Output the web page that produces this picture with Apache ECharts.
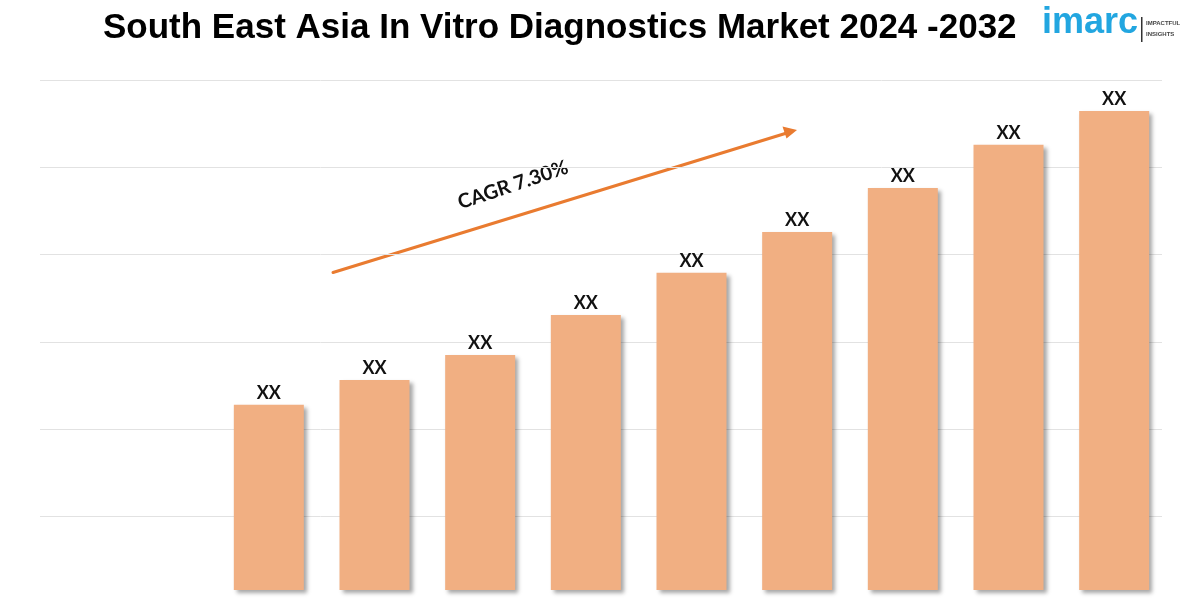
<!DOCTYPE html>
<html>
<head>
<meta charset="utf-8">
<script src="https://cdn.jsdelivr.net/npm/echarts@6/dist/echarts.min.js"></script>
<style>
  html, body { margin: 0; padding: 0; background: #ffffff; }
  #chart { width: 1200px; height: 600px; }
</style>
</head>
<body>
<div id="chart"></div>
<script>
// ---- data ----
const years = ['2024', '2025', '2026', '2027', '2028', '2029', '2030', '2031', '2032'];
const marketValues = [36.3, 41.2, 46.1, 53.9, 62.2, 70.2, 78.8, 87.3, 93.9];
const valueLabel = 'XX';
const titleText = 'South East Asia In Vitro Diagnostics Market 2024 -2032';
const cagrText = 'CAGR 7.30%';

const chart = echarts.init(document.getElementById('chart'), null, { renderer: 'canvas' });

const deg = Math.PI / 180;

const option = {
  backgroundColor: '#ffffff',
  animation: false,
  title: {
    text: titleText,
    left: 103,
    top: 11,
    padding: 0,
    textStyle: {
      fontFamily: '"Liberation Sans", Arial, sans-serif',
      fontWeight: 'bold',
      fontSize: 35,
      color: '#000000'
    }
  },
  grid: [
    { left: 216, right: 33, top: 80, bottom: 10, outerBoundsMode: 'none' },
    { left: 40, right: 38, top: 80, height: 524, outerBoundsMode: 'none' }
  ],
  xAxis: [
    {
      type: 'category',
      gridIndex: 0,
      data: years,
      show: false
    },
    {
      type: 'value',
      gridIndex: 1,
      show: false,
      min: 0,
      max: 1
    }
  ],
  yAxis: [
    {
      type: 'value',
      gridIndex: 0,
      min: 0,
      max: 100,
      show: false
    },
    {
      type: 'value',
      gridIndex: 1,
      min: 0,
      max: 6,
      interval: 1,
      axisLine: { show: false },
      axisTick: { show: false },
      axisLabel: { show: false },
      splitLine: { show: true, lineStyle: { color: '#E2E2E2', width: 1 } }
    }
  ],
  series: [
    {
      type: 'bar',
      xAxisIndex: 0,
      yAxisIndex: 0,
      data: marketValues,
      barWidth: 70,
      itemStyle: {
        color: '#F1AF82',
        shadowColor: 'rgba(0,0,0,0.35)',
        shadowBlur: 4,
        shadowOffsetX: 3,
        shadowOffsetY: 3
      },
      label: {
        show: true,
        position: 'top',
        distance: 3,
        formatter: valueLabel,
        fontFamily: 'Lato, "Open Sans", sans-serif',
        fontWeight: 'bold',
        fontSize: 18,
        color: '#111111'
      }
    }
  ],
  graphic: [
    // CAGR arrow
    {
      type: 'line',
      shape: { x1: 333, y1: 272.5, x2: 786, y2: 133.3 },
      style: { stroke: '#E97B30', lineWidth: 3, lineCap: 'round' },
      silent: true
    },
    {
      type: 'polygon',
      shape: { points: [[797, 130], [786.5, 138.5], [782.5, 126.5]] },
      style: { fill: '#E97B30' },
      silent: true
    },
    {
      type: 'text',
      x: 513,
      y: 185,
      rotation: 18.5 * deg,
      style: {
        text: cagrText,
        font: 'bold 20px Lato, "Open Sans", sans-serif',
        fill: '#111111',
        align: 'center',
        verticalAlign: 'middle'
      },
      silent: true
    },
    // logo
    {
      type: 'text',
      x: 1042,
      y: 23.5,
      style: {
        text: 'imarc',
        font: 'bold 36px "Liberation Sans", Arial, sans-serif',
        fill: '#22A6E0',
        align: 'left',
        verticalAlign: 'middle'
      },
      silent: true
    },
    {
      type: 'rect',
      shape: { x: 1141, y: 17, width: 1.5, height: 25 },
      style: { fill: '#333333' },
      silent: true
    },
    {
      type: 'text',
      x: 1146,
      y: 23,
      style: {
        text: 'IMPACTFUL',
        font: 'bold 6px "Liberation Sans", Arial, sans-serif',
        fill: '#444444',
        align: 'left',
        verticalAlign: 'middle'
      },
      silent: true
    },
    {
      type: 'text',
      x: 1146,
      y: 34,
      style: {
        text: 'INSIGHTS',
        font: 'bold 6px "Liberation Sans", Arial, sans-serif',
        fill: '#444444',
        align: 'left',
        verticalAlign: 'middle'
      },
      silent: true
    }
  ]
};

chart.setOption(option);
</script>
</body>
</html>
